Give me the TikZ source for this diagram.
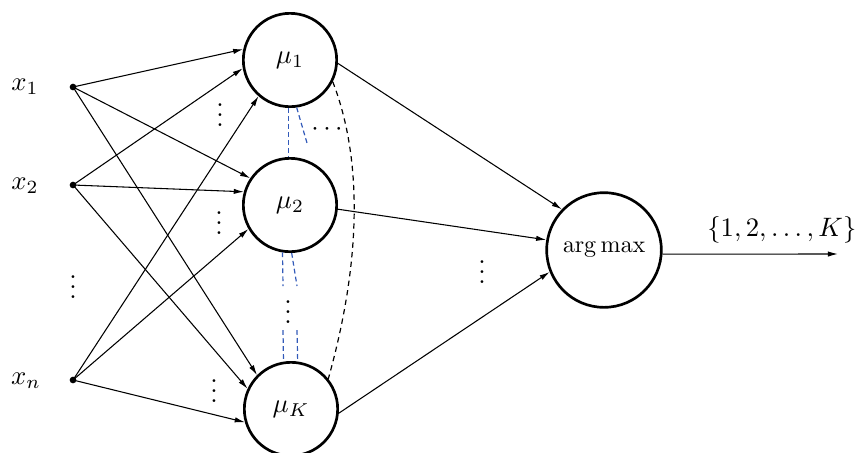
\documentclass[tikz,border=0pt]{standalone}
\usetikzlibrary{arrows.meta}
\definecolor{dashblue}{RGB}{50,90,185}
\newcommand{\myvdots}{\vbox{\baselineskip3.75pt\lineskiplimit0pt\hbox{.}\hbox{.}\hbox{.}}}
\begin{document}
\begin{tikzpicture}[x=0.375pt,y=-0.375pt,
  neuron/.style={circle,draw,line width=1pt,minimum size=35pt,inner sep=0pt},
  bignode/.style={circle,draw,line width=1pt,minimum size=43pt,inner sep=0pt},
  indot/.style={circle,fill,inner sep=0pt,minimum size=2.5pt},
  conn/.style={line width=0.4pt,-{Latex[length=3.8pt,width=2pt]}},
  bluedash/.style={dashblue,line width=0.45pt,dash pattern=on 1.8pt off 1.2pt},
  blackdash/.style={black,line width=0.45pt,dash pattern=on 2pt off 1.6pt},
  vd/.style={inner sep=0pt}]
\useasboundingbox (0,0) rectangle (859,452);

% inputs
\node (l1) at (25,87) {$x_1$};
\node (l2) at (25,186) {$x_2$};
\node (ln) at (26,381) {$x_n$};
\node[indot] (i1) at (73,87) {};
\node[indot] (i2) at (73,185) {};
\node[indot] (in) at (73,380) {};
\node[vd] (vin) at (73,287) {\myvdots};

% neurons
\node[neuron] (m1) at (290,60) {$\mu_1$};
\node[neuron] (m2) at (290,205) {$\mu_2$};
\node[neuron] (mK) at (291,409) {$\mu_K$};
\node[bignode] (am) at (604,250) {\scalebox{0.9}{$\arg\max$}};

% vertical dots
\node[vd] (v1) at (220,115) {\myvdots};
\node[vd] (v2) at (219,223) {\myvdots};
\node[vd] (v3) at (214,391) {\myvdots};
\node[vd] (vm) at (288,312) {\myvdots};
\node[vd] (va) at (482,272) {\myvdots};
\node[anchor=base,yshift=-2.5pt,inner sep=0pt] (hd) at (327,129) {$\cdots$};

% input connections
\draw[conn] (i1.center) -- (m1.167);
\draw[conn] (i2.center) -- (m1.190);
\draw[conn] (in.center) -- (m1.229);
\draw[conn] (i1.center) -- (m2.146);
\draw[conn] (i2.center) -- (m2.164);
\draw[conn] (in.center) -- (m2.210);
\draw[conn] (i1.center) -- (mK.135);
\draw[conn] (i2.center) -- (mK.155);
\draw[conn] (in.center) -- (mK.196);

% to arg max
\draw[conn] (m1.-4) -- (am.136);
\draw[conn] (m2.-5) -- (am.170);
\draw[conn] (mK.-5) -- (am.202);

% output
\coordinate (out) at (838,254);
\draw[conn] (am.-4) -- (out) node[pos=0.68,above=0.5pt] (ol) {$\{1,2,\dots,K\}$};

% blue dashed links
\coordinate (b1) at (307,143);
\coordinate (b2) at (283,286);
\coordinate (b3) at (297,286);
\coordinate (b4) at (283,330);
\coordinate (b5) at (297,330);
\draw[bluedash] (m1.268) -- (m2.92);
\draw[bluedash] (m1.278) -- (b1);
\draw[bluedash] (m2.261) -- (b2);
\draw[bluedash] (m2.272) -- (b3);
\draw[bluedash] (b4) -- (mK.99);
\draw[bluedash] (b5) -- (mK.82);

% black dashed arc
\draw[blackdash] (m1.-27) .. controls (363,160) and (361,262) .. (mK.39);
\end{tikzpicture}
\end{document}
